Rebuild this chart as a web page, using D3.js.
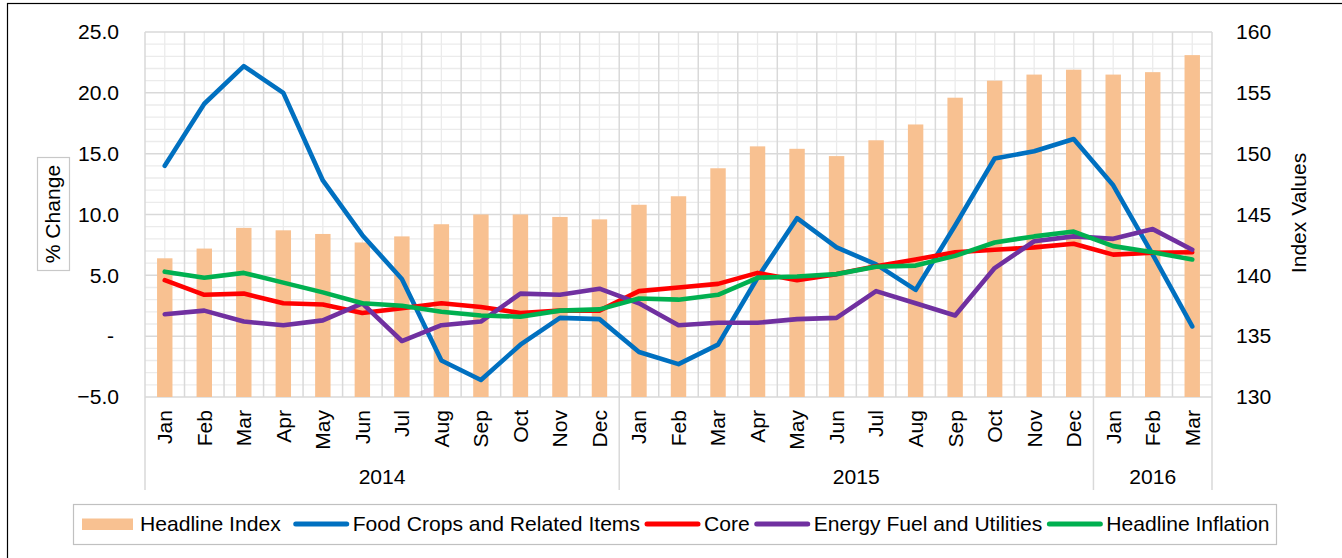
<!DOCTYPE html>
<html>
<head>
<meta charset="utf-8">
<script src="https://cdn.jsdelivr.net/npm/d3@7/dist/d3.min.js"></script>
<style>
    html, body { margin: 0; padding: 0; background: #fff; }
    svg { display: block; font-family: Arial, "Liberation Sans", sans-serif; }
    .tick text { font-size: 21.1px; fill: #000; }
</style>
</head>
<body>
<svg id="chart" width="1342" height="558"></svg>
<script>
// 月份和年份分组
const months = ["Jan", "Feb", "Mar", "Apr", "May", "Jun", "Jul", "Aug", "Sep", "Oct", "Nov", "Dec",
                "Jan", "Feb", "Mar", "Apr", "May", "Jun", "Jul", "Aug", "Sep", "Oct", "Nov", "Dec",
                "Jan", "Feb", "Mar"];
const years = ["2014", "2015", "2016"];
const yearCounts = [12, 12, 3];

// 柱状图 (右轴)
const headlineIndex = [141.4, 142.2, 143.9, 143.7, 143.4, 142.7, 143.2, 144.2, 145.0, 145.0, 144.8, 144.6,
                       145.8, 146.5, 148.8, 150.6, 150.4, 149.8, 151.1, 152.4, 154.6, 156.0, 156.5, 156.9,
                       156.5, 156.7, 158.1];

// 折线 (左轴, % change)
const foodCrops = [14.0, 19.1, 22.2, 20.0, 12.8, 8.3, 4.7, -2.0, -3.6, -0.7, 1.5, 1.4,
                   -1.3, -2.3, -0.7, 4.8, 9.7, 7.3, 5.9, 3.8, 9.1, 14.6, 15.2, 16.2,
                   12.4, 6.7, 0.8];
const core = [4.6, 3.4, 3.5, 2.7, 2.6, 1.9, 2.3, 2.7, 2.4, 1.9, 2.1, 2.1,
              3.7, 4.0, 4.3, 5.2, 4.6, 5.1, 5.75, 6.3, 6.9, 7.1, 7.3, 7.6,
              6.7, 6.85, 6.9];
const energy = [1.8, 2.1, 1.2, 0.9, 1.3, 2.7, -0.4, 0.9, 1.2, 3.5, 3.4, 3.9,
                2.7, 0.9, 1.1, 1.1, 1.4, 1.5, 3.7, 2.7, 1.7, 5.6, 7.8, 8.2,
                8.0, 8.8, 7.1];
const headline = [5.3, 4.8, 5.2, 4.4, 3.6, 2.7, 2.5, 2.0, 1.7, 1.6, 2.1, 2.2,
                  3.1, 3.0, 3.4, 4.8, 4.9, 5.1, 5.7, 5.8, 6.6, 7.7, 8.2, 8.6,
                  7.4, 6.9, 6.3];

const leftTicks = [-5, 0, 5, 10, 15, 20, 25];
const rightTicks = [130, 135, 140, 145, 150, 155, 160];

const lineSeries = [
    { name: "Food Crops and Related Items", values: foodCrops, color: "#0070C0" },
    { name: "Core", values: core, color: "#FF0000" },
    { name: "Energy Fuel and Utilities", values: energy, color: "#7030A0" },
    { name: "Headline Inflation", values: headline, color: "#00B050" }
];

const barColor = "#F8C191";
const fontSize = 21.1;

// 绘图区
const plot = { left: 145, right: 1212, top: 32, bottom: 397 };
const svg = d3.select("#chart");

// 外框 (右侧和底部被裁掉)
svg.append("rect")
    .attr("x", 7.5).attr("y", 3.5)
    .attr("width", 1400).attr("height", 600)
    .attr("fill", "none").attr("stroke", "#000").attr("stroke-width", 1.2);

const idx = d3.range(months.length);
const x = d3.scaleBand().domain(idx).range([plot.left, plot.right]);
const yL = d3.scaleLinear().domain([-5, 25]).range([plot.bottom, plot.top]);
const yR = d3.scaleLinear().domain([130, 160]).range([plot.bottom, plot.top]);
const bw = x.bandwidth();

// 网格线
const grid = svg.append("g");
grid.selectAll("line.hmin")
    .data(d3.range(-5, 26, 1).filter(v => v % 5 !== 0))
    .join("line")
    .attr("x1", plot.left).attr("x2", plot.right)
    .attr("y1", d => yL(d)).attr("y2", d => yL(d))
    .attr("stroke", "#EBEBEB").attr("stroke-width", 1.3);
grid.selectAll("line.vmin")
    .data(idx)
    .join("line")
    .attr("x1", d => x(d) + bw / 2).attr("x2", d => x(d) + bw / 2)
    .attr("y1", plot.top).attr("y2", plot.bottom)
    .attr("stroke", "#EBEBEB").attr("stroke-width", 1.3);
grid.selectAll("line.hmaj")
    .data(leftTicks)
    .join("line")
    .attr("x1", plot.left).attr("x2", plot.right)
    .attr("y1", d => yL(d)).attr("y2", d => yL(d))
    .attr("stroke", "#D9D9D9").attr("stroke-width", 1.5);
grid.selectAll("line.vmaj")
    .data(d3.range(months.length + 1))
    .join("line")
    .attr("x1", d => plot.left + d * bw).attr("x2", d => plot.left + d * bw)
    .attr("y1", plot.top).attr("y2", plot.bottom)
    .attr("stroke", "#D9D9D9").attr("stroke-width", 1.5);

// 柱子
const barW = bw * 0.39;
svg.append("g")
    .selectAll("rect")
    .data(headlineIndex)
    .join("rect")
    .attr("x", (d, i) => x(i) + (bw - barW) / 2)
    .attr("width", barW)
    .attr("y", d => yR(d))
    .attr("height", d => yR(130) - yR(d))
    .attr("fill", barColor);

// 折线
const line = d3.line()
    .x((d, i) => x(i) + bw / 2)
    .y(d => yL(d));
svg.append("g")
    .selectAll("path")
    .data(lineSeries)
    .join("path")
    .attr("d", d => line(d.values))
    .attr("fill", "none")
    .attr("stroke", d => d.color)
    .attr("stroke-width", 4.6)
    .attr("stroke-linejoin", "round")
    .attr("stroke-linecap", "round");

// 左轴
const fmtLeft = v => v === 0 ? "-" : d3.format(".1f")(v);
const axL = svg.append("g")
    .attr("transform", `translate(${plot.left},0)`)
    .call(d3.axisLeft(yL).tickValues(leftTicks).tickFormat(fmtLeft).tickSize(0).tickPadding(26));
axL.select(".domain").remove();
axL.selectAll(".tick text").filter(d => d === 0).attr("dx", "-5");

// 右轴
const axR = svg.append("g")
    .attr("transform", `translate(${plot.right},0)`)
    .call(d3.axisRight(yR).tickValues(rightTicks).tickSize(0).tickPadding(24));
axR.select(".domain").remove();

// 分组分隔线 (年份)
const bounds = [0];
yearCounts.forEach(n => bounds.push(bounds[bounds.length - 1] + n));
svg.append("g")
    .selectAll("line")
    .data(bounds)
    .join("line")
    .attr("x1", d => plot.left + d * bw).attr("x2", d => plot.left + d * bw)
    .attr("y1", plot.bottom).attr("y2", 490)
    .attr("stroke", "#D9D9D9").attr("stroke-width", 1.5);

// 月份标签
svg.append("g")
    .selectAll("text")
    .data(months)
    .join("text")
    .attr("transform", (d, i) => `translate(${x(i) + bw / 2},410) rotate(-90)`)
    .attr("text-anchor", "end")
    .attr("dy", "0.35em")
    .attr("font-size", fontSize)
    .attr("fill", "#000")
    .text(d => d);

// 年份标签
svg.append("g")
    .selectAll("text")
    .data(years)
    .join("text")
    .attr("x", (d, i) => plot.left + (bounds[i] + bounds[i + 1]) / 2 * bw)
    .attr("y", 477)
    .attr("dy", "0.35em")
    .attr("text-anchor", "middle")
    .attr("font-size", fontSize)
    .attr("fill", "#000")
    .text(d => d);

// 轴标题
svg.append("rect")
    .attr("x", 37.5).attr("y", 157.5).attr("width", 32).attr("height", 113)
    .attr("fill", "#fff").attr("stroke", "#C8C8C8").attr("stroke-width", 1.2);
svg.append("text")
    .attr("transform", "translate(53,214) rotate(-90)")
    .attr("text-anchor", "middle")
    .attr("dy", "0.35em")
    .attr("font-size", fontSize)
    .text("% Change");
svg.append("text")
    .attr("transform", "translate(1299,213) rotate(-90)")
    .attr("text-anchor", "middle")
    .attr("dy", "0.35em")
    .attr("font-size", fontSize)
    .text("Index Values");

// 图例
const legend = svg.append("g");
legend.append("rect")
    .attr("x", 73.5).attr("y", 504.5).attr("width", 1203).attr("height", 40)
    .attr("fill", "#fff").attr("stroke", "#C0C0C0").attr("stroke-width", 1.2);

const legendY = 524;
let lx = 82;
legend.append("rect")
    .attr("x", lx).attr("y", legendY - 5.5).attr("width", 51).attr("height", 11.5)
    .attr("fill", barColor);
let t = legend.append("text")
    .attr("x", lx + 58).attr("y", legendY).attr("dy", "0.35em")
    .attr("font-size", fontSize).text("Headline Index");
lx = lx + 58 + t.node().getComputedTextLength() + 13;

lineSeries.forEach(s => {
    legend.append("line")
        .attr("x1", lx + 2).attr("x2", lx + 53)
        .attr("y1", legendY).attr("y2", legendY)
        .attr("stroke", s.color).attr("stroke-width", 5)
        .attr("stroke-linecap", "round");
    const tt = legend.append("text")
        .attr("x", lx + 59).attr("y", legendY).attr("dy", "0.35em")
        .attr("font-size", fontSize).text(s.name);
    lx = lx + 59 + tt.node().getComputedTextLength() + 5;
});
</script>
</body>
</html>
